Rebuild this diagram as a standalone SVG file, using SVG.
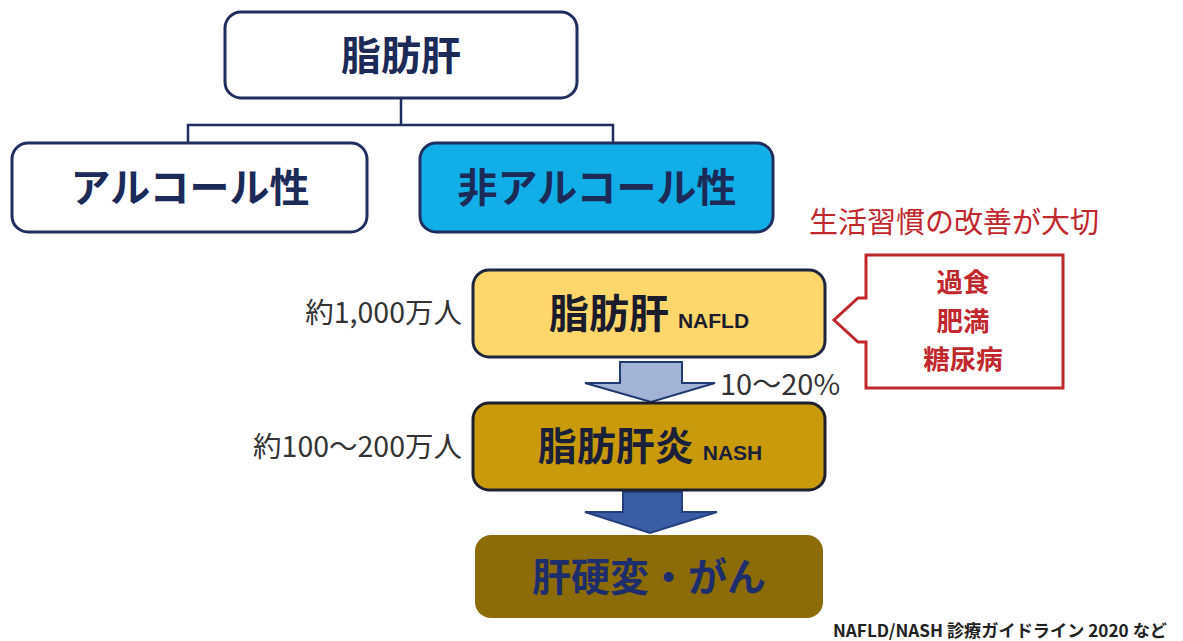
<svg xmlns="http://www.w3.org/2000/svg" width="1183" height="641" viewBox="0 0 1183 641">
<style>
.jp{font-family:"Noto Sans CJK JP","Noto Sans",sans-serif}
.b{font-weight:bold}
.big{font-size:40px;fill:#1c2a58;text-anchor:middle}
.lab{font-size:28.5px;fill:#333;text-anchor:end}
.red{fill:#c0282d}
.box{stroke:#1f2e5e;stroke-width:3}
.conn{stroke:#1f2e5e;stroke-width:2.5;fill:none}
</style>
<rect width="1183" height="641" fill="#fff"/>
<g id="connectors">
<path class="conn" d="M401,98 V125 M188,143 V125 H613 V143"/>
<path d="M620,362 H682 V383 H715 L651,402 L585,383 H620 Z" fill="#a3b3d6" stroke="#1f3a70" stroke-width="2"/>
<path d="M623,492 H682 V512 H717 L650,533 L585,512 H623 Z" fill="#3a5da6" stroke="#24407f" stroke-width="2"/>
</g>
<g id="n-top">
<rect class="box" x="225" y="12" width="352" height="86" rx="16" fill="#fff"/>
<text class="jp b big" x="401" y="70">脂肪肝</text>
</g>
<g id="n-alcohol">
<rect class="box" x="12" y="143" width="355" height="89" rx="16" fill="#fff"/>
<text class="jp b big" x="190" y="202">アルコール性</text>
</g>
<g id="n-nonalcohol">
<rect class="box" x="420" y="143" width="353" height="89" rx="16" fill="#12aee8"/>
<text class="jp b big" x="597" y="202">非アルコール性</text>
</g>
<g id="n-nafld">
<rect x="473" y="270" width="352" height="87" rx="16" fill="#fdd66c" stroke="#1e2640" stroke-width="3"/>
<text class="jp b" x="649" y="328" text-anchor="middle" fill="#1a1c2c"><tspan font-size="40">脂肪肝</tspan><tspan font-size="21" dx="9" font-family="'Liberation Sans',sans-serif">NAFLD</tspan></text>
<text class="jp lab" x="462" y="323">約1,000万人</text>
</g>
<g id="n-nash">
<rect x="473" y="403" width="352" height="87" rx="16" fill="#c99a0c" stroke="#1e2030" stroke-width="3"/>
<text class="jp b" x="650" y="460" text-anchor="middle" fill="#1a1f3a"><tspan font-size="39">脂肪肝炎</tspan><tspan font-size="21" dx="9" font-family="'Liberation Sans',sans-serif">NASH</tspan></text>
<text class="jp lab" x="462" y="457">約100〜200万人</text>
</g>
<g id="n-cirrhosis">
<rect x="475" y="535" width="348" height="83" rx="16" fill="#8c6c08"/>
<text class="jp b" x="649" y="591" text-anchor="middle" font-size="39" fill="#1e2d6b">肝硬変・がん</text>
</g>
<g id="n-lifestyle">
<text class="jp red" x="954" y="233" text-anchor="middle" font-size="29">生活習慣の改善が大切</text>
<path d="M866,255 H1063 V388 H866 V342 H858 L834,320 L858,298 H866 Z" fill="#fff" stroke="#c0282d" stroke-width="3"/>
<text class="jp b red" font-size="26.5" text-anchor="middle"><tspan x="963" y="292">過食</tspan><tspan x="963" y="330.5">肥満</tspan><tspan x="963" y="369">糖尿病</tspan></text>
</g>
<text class="jp" x="720" y="395" font-size="29" fill="#333">10〜20%</text>
<text class="jp b" x="833" y="637" font-size="17" fill="#222" textLength="334" lengthAdjust="spacingAndGlyphs">NAFLD/NASH 診療ガイドライン 2020 など</text>
</svg>
